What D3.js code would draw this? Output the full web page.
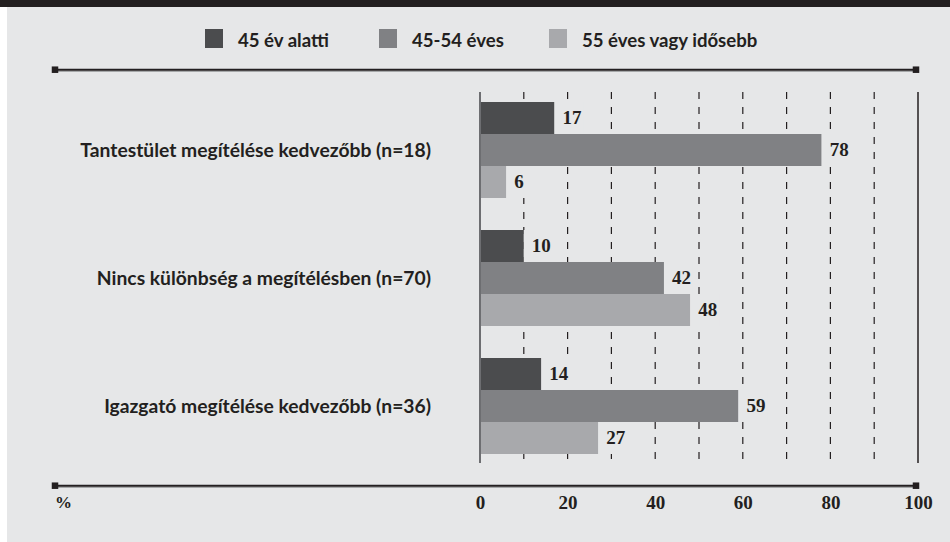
<!DOCTYPE html>
<html>
<head>
<meta charset="utf-8">
<script src="https://cdn.jsdelivr.net/npm/d3@7/dist/d3.min.js"></script>
<style>
  html, body { margin: 0; padding: 0; background: #ffffff; }
  svg { display: block; }
</style>
</head>
<body>
<svg id="chart" width="950" height="542"></svg>
<script>
// Categories and the three age-group series (percent)
const categories = [
  "Tantestület megítélése kedvezőbb (n=18)",
  "Nincs különbség a megítélésben (n=70)",
  "Igazgató megítélése kedvezőbb (n=36)"
];
const seriesNames = ["45 év alatti", "45-54 éves", "55 éves vagy idősebb"];
const under45 = [17, 10, 14];
const age45to54 = [78, 42, 59];
const age55plus = [6, 48, 27];
const tickValues = [0, 20, 40, 60, 80, 100];
const gridValues = [10, 20, 30, 40, 50, 60, 70, 80, 90];
const axisUnit = "%";

const seriesValues = [under45, age45to54, age55plus];
const colors = ["#4b4c4e", "#808184", "#a8a9ac"];
const ink = "#231f20";
const panel = "#e6e7e8";
const sansFont = "Lato, 'Open Sans', sans-serif";
const serifFont = "'Liberation Serif', 'DejaVu Serif', serif";

const svg = d3.select("#chart");
const W = 950, H = 542;

// Panel background, dark top band
svg.append("rect").attr("x", 7).attr("y", 0).attr("width", W - 7).attr("height", H).attr("fill", panel);
svg.append("rect").attr("x", 0).attr("y", 0).attr("width", W).attr("height", 7).attr("fill", ink);

// Scales
const x = d3.scaleLinear().domain([0, 100]).range([480, 918]);
const y = d3.scaleBand().domain(categories).range([86, 470]).paddingInner(0.25).paddingOuter(0.125);
const ySub = d3.scaleBand().domain(seriesNames).range([0, y.bandwidth()]);

const gridTop = 92, gridBottom = 463;

// Legend
const legendX = [205, 379, 549];
const legend = svg.append("g");
seriesNames.forEach((name, i) => {
  legend.append("rect")
    .attr("x", legendX[i]).attr("y", 29).attr("width", 18).attr("height", 19)
    .attr("fill", colors[i]);
  legend.append("text")
    .attr("x", legendX[i] + 33).attr("y", 46.5)
    .attr("font-family", sansFont).attr("font-weight", 700).attr("font-size", 18.6)
    .attr("fill", ink).text(name);
});

// Horizontal rules with square end caps
function rule(yPos) {
  const g = svg.append("g");
  g.append("line").attr("x1", 55).attr("x2", 916).attr("y1", yPos + 1.5).attr("y2", yPos + 1.5)
    .attr("stroke", "#8a8b8d").attr("stroke-width", 1);
  g.append("line").attr("x1", 55).attr("x2", 916).attr("y1", yPos).attr("y2", yPos)
    .attr("stroke", ink).attr("stroke-width", 2);
  [55, 916].forEach(cx => {
    g.append("rect").attr("x", cx - 3.25).attr("y", yPos - 3.25).attr("width", 6.5).attr("height", 6.5).attr("fill", ink);
  });
}
rule(69.7);
rule(485.7);

// Dashed grid lines every 10 %
svg.append("g").selectAll("line").data(gridValues).join("line")
  .attr("x1", d => x(d)).attr("x2", d => x(d))
  .attr("y1", gridTop).attr("y2", gridBottom)
  .attr("stroke", ink).attr("stroke-width", 1.2)
  .attr("stroke-dasharray", "7,8");

// Solid line at 100 %
svg.append("line").attr("x1", x(100)).attr("x2", x(100)).attr("y1", gridTop).attr("y2", gridBottom)
  .attr("stroke", ink).attr("stroke-width", 1.5);

// Bars and value labels (each label sits on a panel-coloured knockout box)
const groups = svg.append("g").selectAll("g").data(categories).join("g")
  .attr("transform", d => `translate(0,${y(d)})`);

groups.each(function(cat, ci) {
  const g = d3.select(this);
  seriesNames.forEach((s, si) => {
    const v = seriesValues[si][ci];
    g.append("rect")
      .attr("x", x(0)).attr("y", ySub(s))
      .attr("width", x(v) - x(0)).attr("height", ySub.bandwidth())
      .attr("fill", colors[si]);
    const box = g.append("rect")
      .attr("x", x(v)).attr("y", ySub(s))
      .attr("height", ySub.bandwidth())
      .attr("fill", panel);
    const label = g.append("text")
      .attr("x", x(v) + 8).attr("y", ySub(s) + ySub.bandwidth() / 2)
      .attr("dy", "0.34em")
      .attr("font-family", serifFont).attr("font-weight", 700).attr("font-size", 19)
      .attr("fill", ink).text(v);
    box.attr("width", 8 + label.node().getComputedTextLength() + 2);
  });
});

// Zero baseline
svg.append("line").attr("x1", x(0)).attr("x2", x(0)).attr("y1", gridTop).attr("y2", gridBottom)
  .attr("stroke", "#6d6e71").attr("stroke-width", 2);

// Category labels
svg.append("g").selectAll("text").data(categories).join("text")
  .attr("x", 431).attr("y", d => y(d) + y.bandwidth() / 2)
  .attr("dy", "0.36em").attr("text-anchor", "end")
  .attr("font-family", sansFont).attr("font-weight", 700).attr("font-size", 19.3)
  .attr("fill", ink).text(d => d);

// Bottom axis labels
const axis = d3.axisBottom(x).tickValues(tickValues).tickSize(0).tickPadding(0);
const axisG = svg.append("g").attr("transform", "translate(0,509)").call(axis);
axisG.select(".domain").remove();
axisG.selectAll("text")
  .attr("y", 0).attr("dy", 0)
  .attr("font-family", serifFont).attr("font-weight", 700).attr("font-size", 19)
  .attr("fill", ink);

svg.append("text").attr("x", 55).attr("y", 508)
  .attr("font-family", serifFont).attr("font-weight", 700).attr("font-size", 17)
  .attr("fill", ink).text(axisUnit);
</script>
</body>
</html>
